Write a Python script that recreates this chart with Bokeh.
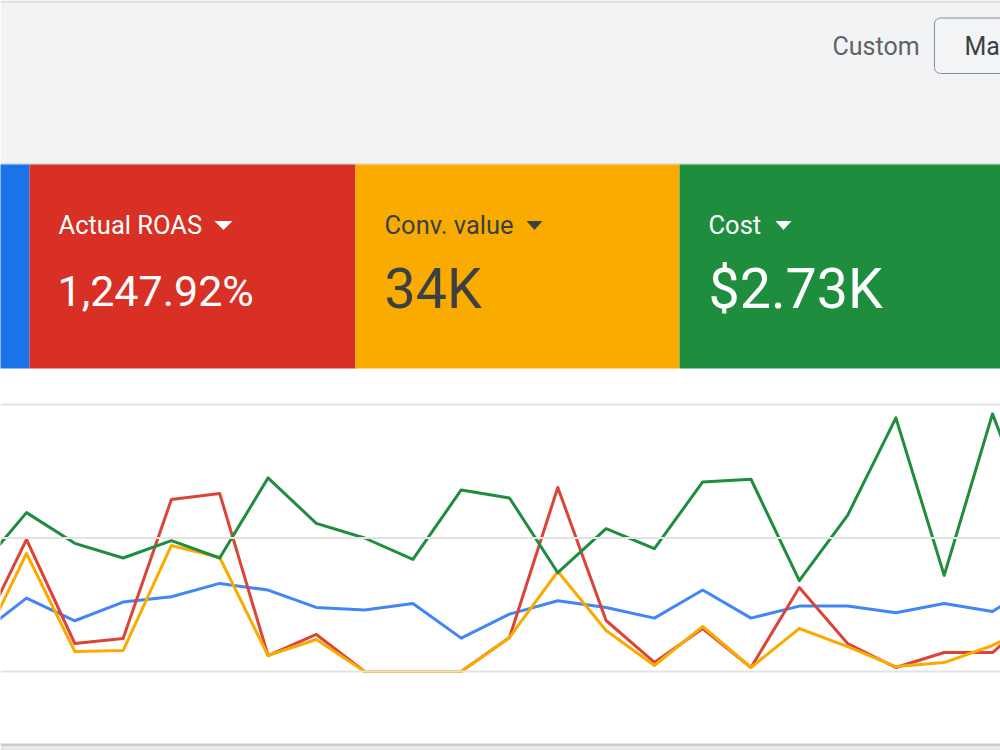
from bokeh.plotting import figure
from bokeh.models import Range1d, Span, BoxAnnotation, Label
from bokeh.core.properties import value
from bokeh.embed import file_html
from bokeh.resources import INLINE

# ---------------- data ----------------
days = list(range(1, 24))  # day of month (May)
clicks = [27, 55, 38, 52, 56, 66, 61, 48, 46, 51, 25, 43, 53, 48, 40, 61, 40, 49, 49, 44, 51, 45, 68]
roas = [989, 3955, 839, 989, 5154, 5333, 479, 1109, 0, 0, 0, 1019, 5513, 1528, 270, 1288, 120, 2517, 839, 120, 569, 569, 1828]
conv_value = [675, 4420, 750, 785, 4720, 4270, 600, 1200, 0, 0, 0, 1275, 3745, 1535, 225, 1685, 150, 1610, 935, 185, 335, 975, 1875]
cost = [76, 119, 96, 85, 98, 85, 145, 111, 100, 84, 136, 130, 74, 107, 92, 142, 144, 68, 117, 190, 72, 193, 98]

card_labels = ["Actual ROAS", "Conv. value", "Cost"]
card_values = ["1,247.92%", "34K", "$2.73K"]
header_label = "Custom"
date_button = "May"

# gridline steps of the cost axis (shared gridlines)
cost_ticks = [0, 100, 200]

# ---------------- styles / layout ----------------
BLUE, RED, YELLOW, GREEN = "#1a73e8", "#d93025", "#f9ab00", "#1e8e3e"
FONT = value("Roboto")

p = figure(width=1000, height=750, x_range=Range1d(0, 1000), y_range=Range1d(750, 0),
           x_axis_type=None, y_axis_type=None, toolbar_location=None,
           output_backend="svg", min_border=0, outline_line_color=None,
           background_fill_color="white", border_fill_color="white")

# header
p.quad(left=[0], right=[1000], top=[0], bottom=[164], fill_color="#f1f3f4", line_color=None)
p.quad(left=[0], right=[1000], top=[0], bottom=[2.5], fill_color="#dfe1e3", line_color=None)
p.quad(left=[0], right=[1000], top=[162.5], bottom=[164], fill_color="#dadce0", line_color=None)
p.add_layout(BoxAnnotation(left=934, right=1012, top=17.5, bottom=73, fill_color="#f3f4f5", fill_alpha=1,
                           line_color="#8a8f94", line_width=1, line_alpha=1, border_radius=6))
p.text(x=[832], y=[46], text=[header_label], text_font=FONT, text_font_size="25px",
       text_color="#5f6368", text_baseline="middle")
p.add_layout(Label(x=964, y=46, text=date_button, text_font="Roboto", text_font_size="25px",
                   text_color="#3c4043", text_baseline="middle"))

# metric cards
p.quad(left=[-297, 29, 355, 679], right=[29, 355, 679, 1005], top=[164] * 4, bottom=[368] * 4,
       fill_color=[BLUE, RED, YELLOW, GREEN], line_color=None)
label_x = [58, 384, 708]
text_cols = ["white", "#3c4043", "white"]
p.text(x=label_x, y=[224] * 3, text=card_labels, text_font=FONT, text_font_size="25.5px",
       text_color=text_cols, text_baseline="middle")
p.patches(xs=[[214, 232, 223], [526, 542, 534], [775, 791, 783]],
          ys=[[220.5, 220.5, 229.5]] * 3, fill_color=text_cols, line_color=None)
p.text(x=[label_x[0] - 1], y=[290], text=[card_values[0]], text_font=FONT, text_font_size="43px",
       text_color=text_cols[0], text_baseline="middle")
p.text(x=label_x[1:], y=[289, 289], text=card_values[1:], text_font=FONT, text_font_size="55.5px",
       text_color=text_cols[1:], text_baseline="middle")

# chart card bottom shadow
p.quad(left=[0], right=[1000], top=[743], bottom=[745.5], fill_color="#cbcbcb", line_color=None)
p.quad(left=[0], right=[1000], top=[745.5], bottom=[750], fill_color="#e8e8e8", line_color=None)

# chart scales: each metric on its own axis, sharing gridlines
def metric_range(step):
    return Range1d(-79 / 133.5 * step, 671 / 133.5 * step)

p.extra_x_ranges = {"day": Range1d(2 - 26 / 48.3, 2 + 974 / 48.3)}
p.extra_y_ranges = {"cost": metric_range(100), "conv": metric_range(5000),
                    "roas": metric_range(4000), "clicks": metric_range(100)}

for t in cost_ticks:
    p.add_layout(Span(location=t, dimension="width", y_range_name="cost",
                      line_color="#e3e3e3", line_width=1.8))

for series, rng, col in [(clicks, "clicks", "#4285f4"), (roas, "roas", "#db4437"),
                         (conv_value, "conv", "#f9ab00"), (cost, "cost", "#1e8e3e")]:
    p.line(days, series, x_range_name="day", y_range_name=rng, line_color=col,
           line_width=3, line_join="round")

open("out.html", "w").write(file_html(p, INLINE))
